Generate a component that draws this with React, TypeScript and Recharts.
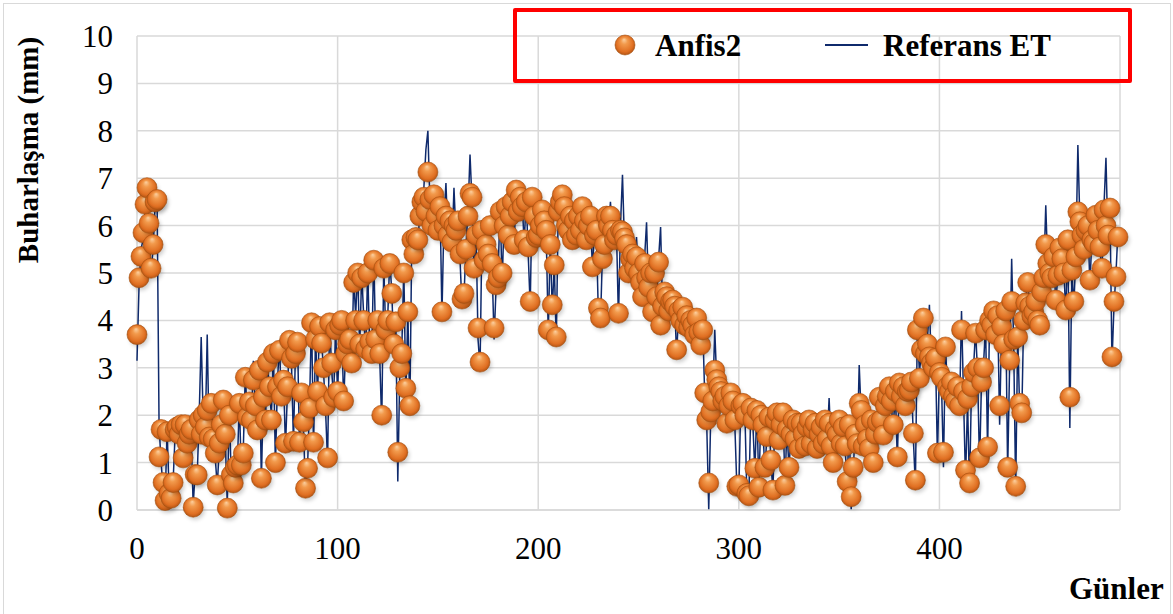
import { ComposedChart, Line, Scatter, XAxis, YAxis, CartesianGrid } from 'recharts'

// Günlük buharlaşma (mm) – Anfis2 tahmini, gün 0..489
const ANFIS2 = [
  3.7, 4.9, 5.35, 5.85, 6.45, 6.8, 6.05, 5.1, 5.6, 6.5,
  6.55, 1.12, 1.7, 0.58, 0.2, 1.65, 0.35, 0.25, 0.58, 1.7,
  1.75, 1.6, 1.8, 1.1, 1.8, 1.41, 1.6, 1.7, 0.06, 0.75,
  0.74, 1.9, 1.6, 2.0, 1.75, 2.1, 1.54, 2.25, 1.5, 1.2,
  0.53, 1.41, 1.8, 2.32, 1.6, 0.04, 2.0, 0.74, 0.57, 0.9,
  0.95, 2.25, 0.95, 1.2, 2.8, 1.96, 2.28, 1.9, 2.74, 2.2,
  1.69, 2.95, 0.67, 2.38, 1.9, 3.12, 2.6, 1.9, 3.3, 1.0,
  2.6, 3.37, 2.4, 2.74, 1.41, 2.6, 3.58, 3.2, 1.45, 3.3,
  3.54, 1.43, 2.47, 1.86, 0.46, 0.88, 2.15, 3.95, 1.43, 3.6,
  2.5, 3.87, 3.52, 3.0, 2.2, 1.1, 3.95, 3.1, 2.38, 3.8,
  2.5, 3.9, 4.0, 2.3, 3.3, 3.5, 3.6, 3.1, 4.8, 4.0,
  5.0, 3.5, 4.9, 4.0, 3.4, 5.0, 3.55, 3.3, 5.27, 3.6,
  4.0, 3.3, 2.0, 5.1, 3.8, 4.0, 5.2, 4.57, 3.5, 3.97,
  1.22, 3.0, 3.3, 5.0, 2.57, 4.18, 2.2, 5.7, 5.4, 5.75,
  5.7, 6.2, 6.5, 6.6, 6.3, 7.13, 6.55, 6.0, 6.65, 6.2,
  5.9, 6.4, 4.18, 6.0, 6.2, 5.8, 6.1, 5.65, 6.0, 5.9,
  6.1, 5.4, 4.45, 4.57, 5.5, 6.2, 6.68, 6.6, 5.1, 5.8,
  3.84, 3.12, 5.9, 5.27, 5.6, 5.4, 6.0, 5.2, 3.84, 4.75,
  4.9, 6.3, 5.0, 6.0, 6.4, 5.8, 6.2, 6.5, 5.6, 6.75,
  6.3, 6.6, 6.4, 5.7, 6.5, 5.55, 4.4, 6.6, 6.2, 5.75,
  5.8, 6.0, 6.33, 6.1, 5.9, 3.8, 5.6, 4.33, 5.17, 3.65,
  6.3, 6.5, 6.65, 6.4, 6.0, 5.9, 6.2, 5.7, 6.1, 5.8,
  6.2, 5.9, 6.4, 6.1, 5.7, 6.0, 6.2, 5.13, 5.8, 5.9,
  4.26, 4.05, 5.3, 5.6, 6.2, 6.0, 6.2, 5.9, 5.7, 5.8,
  4.15, 5.9, 5.87, 5.74, 5.6, 5.0, 5.3, 5.4, 5.1, 5.34,
  5.0, 4.8, 4.5, 5.2, 4.9, 4.7, 5.0, 4.18, 5.0, 4.5,
  5.23, 3.9, 4.3, 4.6, 4.5, 4.2, 4.4, 4.43, 4.3, 3.38,
  4.2, 4.0, 4.28, 3.9, 4.1, 3.85, 4.0, 3.9, 3.7, 4.05,
  3.75, 3.48, 3.8, 2.47, 1.9, 0.57, 2.07, 2.3, 2.95, 2.75,
  2.6, 2.5, 2.3, 2.4, 1.83, 2.2, 2.47, 2.3, 1.9, 0.5,
  0.53, 2.2, 2.25, 2.0, 0.35, 0.3, 2.15, 1.9, 0.88, 2.1,
  0.48, 2.0, 1.8, 0.9, 1.55, 1.96, 1.05, 0.42, 1.9, 2.05,
  1.48, 1.8, 2.05, 0.52, 1.7, 0.9, 1.6, 1.9, 1.5, 1.83,
  1.3, 1.83, 1.6, 1.35, 1.75, 1.9, 1.4, 1.7, 1.83, 1.3,
  1.6, 1.75, 1.4, 1.9, 1.5, 1.83, 1.35, 1.0, 1.7, 1.6,
  1.9, 1.4, 1.75, 1.35, 0.6, 1.8, 0.28, 0.9, 1.6, 1.4,
  2.25, 2.1, 1.35, 1.8, 1.5, 1.3, 1.9, 1.0, 1.6, 1.85,
  2.38, 1.9, 1.58, 2.2, 2.4, 2.6, 2.3, 1.8, 2.5, 1.12,
  2.68, 2.4, 2.6, 2.2, 2.5, 2.53, 2.7, 1.62, 0.63, 3.8,
  2.78, 3.38, 4.05, 3.3, 3.5, 3.23, 3.1, 3.0, 3.2, 1.2,
  2.9, 2.8, 1.22, 3.44, 2.6, 2.5, 2.7, 2.4, 2.3, 2.6,
  2.2, 3.8, 2.5, 0.84, 2.35, 0.57, 2.6, 2.9, 3.73, 3.0,
  1.1, 2.7, 3.0, 3.8, 1.33, 4.0, 3.9, 4.2, 3.7, 4.1,
  2.2, 3.87, 3.5, 4.2, 0.9, 3.16, 4.4, 3.6, 0.5, 3.65,
  2.25, 2.05, 4.0, 4.37, 4.8, 4.3, 4.1, 4.18, 4.4, 4.0,
  3.9, 4.6, 4.9, 5.6, 5.2, 5.0, 4.9, 5.34, 4.43, 4.95,
  5.53, 5.3, 5.0, 4.22, 5.7, 2.38, 5.06, 4.4, 5.34, 6.29,
  6.08, 5.8, 5.5, 5.9, 6.0, 4.85, 5.7, 5.63, 6.22, 5.9,
  5.55, 5.1, 6.33, 6.0, 5.8, 6.37, 3.23, 4.4, 4.92, 5.76,
]

// Referans ET (mm), gün 0..489
const REFERANS_ET = [
  3.15, 4.7, 5.5, 5.7, 6.3, 6.9, 5.9, 5.0, 5.5, 6.4,
  6.6, 1.8, 1.0, 0.5, 0.15, 1.7, 0.4, 0.2, 0.6, 1.6,
  1.8, 1.5, 1.9, 1.0, 1.7, 1.3, 1.7, 1.6, 0.1, 0.8,
  0.7, 2.0, 3.65, 1.9, 1.6, 3.7, 1.4, 2.3, 1.4, 1.1,
  0.5, 1.3, 1.9, 2.4, 1.5, 0.1, 2.1, 0.7, 0.5, 1.0,
  0.9, 2.3, 0.8, 1.3, 2.9, 1.9, 2.4, 1.8, 3.15, 2.1,
  1.6, 3.1, 0.6, 2.5, 1.8, 3.2, 2.5, 2.0, 3.4, 0.9,
  2.7, 3.5, 2.3, 2.9, 1.3, 2.5, 3.7, 3.1, 1.4, 3.4,
  3.7, 1.3, 2.5, 1.7, 0.4, 0.9, 2.2, 4.1, 1.3, 3.7,
  2.4, 4.0, 3.6, 2.9, 2.1, 1.0, 4.0, 3.0, 2.3, 3.9,
  2.4, 4.0, 4.1, 2.2, 3.4, 3.6, 3.7, 2.9, 4.9, 4.1,
  5.1, 3.4, 5.0, 4.1, 3.3, 5.1, 3.4, 3.2, 5.4, 3.5,
  4.1, 3.2, 1.8, 5.2, 3.7, 4.1, 5.3, 4.6, 3.4, 4.0,
  0.6, 2.9, 3.4, 5.1, 2.4, 4.2, 2.1, 5.8, 5.3, 5.9,
  5.6, 6.3, 6.6, 6.8, 7.6, 8.0, 6.5, 5.9, 6.8, 6.1,
  6.0, 6.6, 4.1, 6.1, 6.9, 5.7, 6.2, 5.5, 6.8, 5.8,
  6.2, 5.3, 4.3, 4.5, 5.6, 6.3, 7.5, 6.5, 4.9, 5.9,
  3.6, 3.0, 6.0, 5.2, 5.7, 5.3, 6.1, 5.1, 3.6, 4.7,
  5.0, 6.4, 4.8, 6.1, 6.5, 5.7, 6.3, 6.6, 5.5, 6.9,
  6.2, 6.7, 6.5, 5.6, 6.6, 5.4, 4.3, 6.7, 6.1, 5.8,
  5.7, 6.1, 6.4, 6.0, 5.8, 3.7, 5.7, 4.2, 5.2, 3.5,
  6.4, 6.6, 6.8, 6.3, 5.9, 6.0, 6.3, 5.5, 6.2, 5.7,
  6.3, 5.8, 6.5, 6.0, 5.6, 6.1, 6.5, 5.0, 5.9, 5.8,
  4.1, 3.9, 5.4, 5.7, 6.3, 5.9, 6.5, 5.8, 5.6, 5.9,
  4.0, 6.0, 7.07, 5.6, 5.7, 4.8, 5.4, 5.3, 5.2, 5.76,
  4.9, 4.7, 4.4, 5.3, 6.07, 4.6, 5.1, 4.0, 4.9, 4.4,
  5.3, 5.97, 4.2, 4.7, 4.4, 4.3, 4.5, 4.3, 4.4, 3.2,
  4.3, 3.9, 4.4, 3.8, 4.2, 3.8, 4.1, 3.8, 3.6, 4.1,
  3.7, 3.3, 3.9, 2.4, 1.8, 0.0, 2.0, 2.4, 3.8, 2.7,
  2.6, 2.4, 2.2, 2.5, 1.7, 2.3, 2.5, 2.2, 1.8, 0.5,
  0.4, 2.3, 2.2, 2.1, 0.3, 0.3, 2.2, 1.8, 0.8, 2.2,
  0.4, 2.1, 1.7, 0.8, 1.6, 2.0, 1.0, 0.4, 2.0, 2.1,
  1.4, 1.9, 2.1, 0.5, 1.8, 0.8, 1.7, 2.0, 1.4, 1.9,
  1.2, 1.9, 1.5, 1.3, 1.8, 2.0, 1.3, 1.8, 1.9, 1.2,
  1.7, 1.8, 1.3, 2.0, 1.4, 2.36, 1.3, 0.9, 1.8, 1.5,
  2.0, 1.3, 1.8, 1.3, 0.5, 1.9, 0.0, 0.8, 1.7, 1.3,
  3.06, 2.0, 1.3, 1.9, 1.4, 1.2, 2.0, 0.9, 1.7, 1.9,
  2.5, 1.8, 1.5, 2.3, 2.6, 2.7, 2.2, 1.7, 2.6, 1.0,
  2.8, 2.3, 2.7, 2.1, 2.6, 2.6, 2.8, 1.5, 0.5, 3.9,
  2.9, 3.3, 4.2, 3.2, 3.6, 4.33, 3.0, 3.1, 3.3, 1.1,
  3.0, 2.7, 0.9, 3.5, 2.5, 2.6, 2.8, 2.3, 2.2, 2.7,
  2.1, 4.2, 2.4, 0.6, 2.3, 0.4, 2.7, 3.0, 3.8, 2.9,
  0.9, 2.8, 3.1, 3.9, 1.2, 4.1, 4.0, 4.3, 3.6, 4.2,
  1.8, 3.9, 3.4, 4.3, 0.8, 3.1, 5.3, 3.5, 0.4, 3.7,
  2.1, 1.9, 4.1, 4.4, 4.9, 4.2, 4.2, 4.1, 4.5, 3.9,
  3.8, 4.7, 5.0, 6.43, 5.1, 5.1, 4.8, 5.4, 4.3, 5.0,
  5.6, 5.2, 5.1, 4.1, 5.8, 1.73, 5.1, 4.3, 5.4, 7.7,
  6.1, 5.7, 5.4, 6.0, 6.1, 4.7, 5.8, 5.6, 6.3, 5.8,
  5.5, 5.0, 6.4, 7.43, 5.7, 6.4, 3.1, 4.3, 5.0, 5.9,
]

const X_TICKS = [0, 100, 200, 300, 400]
const Y_TICKS = [0, 1, 2, 3, 4, 5, 6, 7, 8, 9, 10]

const data = ANFIS2.map((v, i) => ({ gun: i, anfis: v, ref: REFERANS_ET[i] }))

const FONT = '"Liberation Serif", "Times New Roman", serif'
const NAVY = '#0f2a6c'

function Ball(props: any) {
  const { cx, cy } = props
  if (cx == null || cy == null) return null
  return (
    <g>
      <circle cx={cx + 2} cy={cy + 3} r={9.5} fill="#000" opacity={0.2} filter="url(#ballShadow)" />
      <circle cx={cx} cy={cy} r={10} fill="url(#ballFill)" stroke="#a4500f" strokeWidth={0.6} />
    </g>
  )
}

export default function App() {
  const tickStyle = { fill: '#000', fontSize: 31, fontFamily: FONT }
  return (
    <div style={{ position: 'relative', width: 1173, height: 614, background: '#fff', overflow: 'hidden' }}>
      <style>{'body{margin:0}'}</style>
      <div
        style={{
          position: 'absolute',
          left: 3,
          top: 3,
          width: 1166,
          height: 640,
          border: '1.5px solid #d9d9d9',
        }}
      />
      <div style={{ position: 'absolute', left: 0, top: 0 }}>
        <ComposedChart width={1173} height={614} data={data} margin={{ top: 36, right: 53, bottom: 0, left: 0 }}>
          <defs>
            <radialGradient id="ballFill" cx="50%" cy="50%" r="55%" fx="45%" fy="22%">
              <stop offset="0%" stopColor="#fcd0a0" />
              <stop offset="30%" stopColor="#f29a4c" />
              <stop offset="75%" stopColor="#e06f22" />
              <stop offset="100%" stopColor="#a84d10" />
            </radialGradient>
            <filter id="ballShadow" x="-50%" y="-50%" width="200%" height="200%">
              <feGaussianBlur stdDeviation="2" />
            </filter>
          </defs>
          <CartesianGrid stroke="#d9d9d9" strokeWidth={1.5} />
          <XAxis
            type="number"
            dataKey="gun"
            domain={[0, 490]}
            ticks={X_TICKS}
            interval={0}
            height={104}
            tickLine={false}
            tickSize={0}
            tickMargin={27}
            axisLine={{ stroke: '#d9d9d9', strokeWidth: 1.5 }}
            tick={tickStyle}
          />
          <YAxis
            type="number"
            domain={[0, 10]}
            ticks={Y_TICKS}
            interval={0}
            width={137}
            axisLine={false}
            tickLine={false}
            tickSize={0}
            tickMargin={24}
            tick={tickStyle}
          />
          <Line
            type="linear"
            dataKey="ref"
            stroke={NAVY}
            strokeWidth={1.5}
            dot={false}
            activeDot={false}
            isAnimationActive={false}
          />
          <Scatter dataKey="anfis" shape={<Ball />} isAnimationActive={false} />
        </ComposedChart>
      </div>

      {/* eksen başlıkları */}
      <div
        style={{
          position: 'absolute',
          left: 28,
          top: 150,
          transform: 'translate(-50%, -50%) rotate(-90deg)',
          whiteSpace: 'nowrap',
          fontFamily: FONT,
          fontWeight: 'bold',
          fontSize: 29,
          lineHeight: 1,
        }}
      >
        Buharlaşma (mm)
      </div>
      <div
        style={{
          position: 'absolute',
          left: 1069,
          top: 573,
          fontFamily: FONT,
          fontWeight: 'bold',
          fontSize: 31,
          lineHeight: '31px',
        }}
      >
        Günler
      </div>

      {/* lejant */}
      <div
        style={{
          position: 'absolute',
          left: 513,
          top: 8,
          width: 611,
          height: 67,
          border: '4px solid #ff0000',
          borderRadius: 2,
        }}
      />
      <svg style={{ position: 'absolute', left: 612, top: 32 }} width={28} height={28}>
        <defs>
          <radialGradient id="legBall" cx="50%" cy="50%" r="55%" fx="45%" fy="22%">
            <stop offset="0%" stopColor="#fcd0a0" />
            <stop offset="30%" stopColor="#f29a4c" />
            <stop offset="75%" stopColor="#e06f22" />
            <stop offset="100%" stopColor="#a84d10" />
          </radialGradient>
        </defs>
        <circle cx={13} cy={13} r={10} fill="url(#legBall)" stroke="#a4500f" strokeWidth={0.6} />
      </svg>
      <div
        style={{
          position: 'absolute',
          left: 655,
          top: 30,
          fontFamily: FONT,
          fontWeight: 'bold',
          fontSize: 31,
          lineHeight: '31px',
        }}
      >
        Anfis2
      </div>
      <div style={{ position: 'absolute', left: 825, top: 44, width: 43, height: 1.5, background: NAVY }} />
      <div
        style={{
          position: 'absolute',
          left: 883,
          top: 30,
          fontFamily: FONT,
          fontWeight: 'bold',
          fontSize: 31,
          lineHeight: '31px',
          whiteSpace: 'nowrap',
        }}
      >
        Referans ET
      </div>
    </div>
  )
}
